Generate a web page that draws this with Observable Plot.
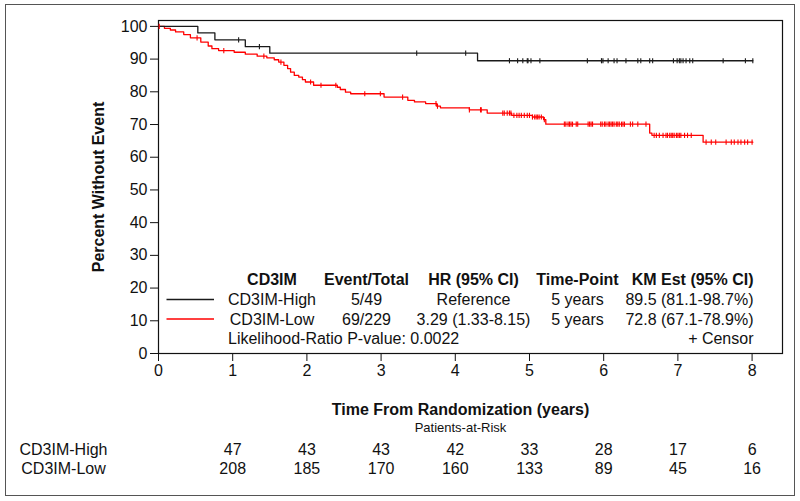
<!DOCTYPE html>
<html>
<head>
<meta charset="utf-8">
<script src="https://cdn.jsdelivr.net/npm/d3@7"></script>
<script src="https://cdn.jsdelivr.net/npm/@observablehq/plot@0.6"></script>
<style>
  html, body { margin: 0; padding: 0; background: #fff; }
  #wrap { position: relative; width: 800px; height: 501px; }
  #border { position: absolute; left: 5px; top: 4px; width: 788px; height: 490px; border: 1.5px solid #555; pointer-events: none; }
</style>
</head>
<body>
<div id="wrap"><div id="chart"></div><div id="border"></div></div>
<script>
// ---- Data ----
const highTimes = [0, 0.53, 0.76, 1.17, 1.50, 4.30, 8.01];
const highSurv  = [100, 98.0, 95.9, 93.8, 91.8, 89.5, 89.5];
const highCensor = [1.08, 1.36, 3.48, 4.14, 4.73, 4.84, 4.91, 4.97, 4.98, 5.02, 5.14, 5.78, 5.97, 5.99,
  6.06, 6.14, 6.18, 6.30, 6.46, 6.50, 6.62, 6.66, 6.94, 6.99, 7.02, 7.04, 7.07, 7.11, 7.16, 7.20, 7.61, 7.91, 8.01];

const lowTimes = [0, 0.08, 0.16, 0.23, 0.34, 0.43, 0.57, 0.67, 0.72, 0.81, 1.02, 1.17, 1.33, 1.46, 1.56, 1.62,
  1.69, 1.74, 1.78, 1.83, 1.89, 1.94, 1.98, 2.09, 2.41, 2.45, 2.52, 2.59, 3.04, 3.36, 3.45, 3.60, 3.75, 3.80,
  4.19, 4.43, 4.76, 5.04, 5.19, 5.22, 6.62, 6.65, 7.34, 8.01];
const lowSurv = [100, 99.4, 98.9, 98.3, 97.5, 96.5, 95.2, 94.0, 93.2, 92.6, 92.1, 91.5, 90.9, 90.4, 89.8, 89.1,
  88.1, 87.1, 86.0, 85.0, 84.5, 83.7, 83.0, 82.0, 81.4, 80.7, 79.9, 79.4, 78.4, 77.4, 76.9, 76.4, 75.6, 75.1,
  74.5, 73.5, 72.8, 72.3, 71.5, 70.1, 67.4, 66.7, 64.6, 64.6];
const lowCensor = [0.01, 0.52, 0.88, 1.42, 1.65, 2.05, 2.19, 2.39, 2.78, 2.99, 3.29, 3.74, 3.76, 4.19, 4.34, 4.35,
  4.64, 4.66, 4.70, 4.73, 4.75, 4.79, 4.83, 4.86, 4.89, 4.93, 4.97, 5.00, 5.04, 5.07, 5.09, 5.11, 5.13, 5.16, 5.20,
  5.47, 5.49, 5.52, 5.54, 5.56, 5.58, 5.63, 5.65, 5.79, 5.81, 5.83, 5.85, 5.96, 5.98, 6.01, 6.03, 6.06, 6.08,
  6.10, 6.12, 6.14, 6.17, 6.19, 6.21, 6.24, 6.26, 6.28, 6.36, 6.39, 6.46, 6.57,
  6.68, 6.71, 6.75, 6.80, 6.84, 6.86, 6.89, 6.91, 6.93, 6.95, 6.98, 7.00, 7.02, 7.04, 7.09, 7.13, 7.18,
  7.38, 7.45, 7.51, 7.65, 7.72, 7.76, 7.81, 7.85, 7.90, 7.94, 8.00];

const xTicks = [0, 1, 2, 3, 4, 5, 6, 7, 8];
const yTicks = [0, 10, 20, 30, 40, 50, 60, 70, 80, 90, 100];

const groups = ["CD3IM-High", "CD3IM-Low"];
const riskTimes = [1, 2, 3, 4, 5, 6, 7, 8];
const riskHigh = [47, 43, 43, 42, 33, 28, 17, 6];
const riskLow  = [208, 185, 170, 160, 133, 89, 45, 16];

const legendHeaders = ["CD3IM", "Event/Total", "HR (95% CI)", "Time-Point", "KM Est (95% CI)"];
const legendEvents = ["5/49", "69/229"];
const legendHR = ["Reference", "3.29 (1.33-8.15)"];
const legendTimePoint = ["5 years", "5 years"];
const legendKM = ["89.5 (81.1-98.7%)", "72.8 (67.1-78.9%)"];
const pValueText = "Likelihood-Ratio P-value: 0.0022";
const censorText = "+ Censor";

// ---- Build tables ----
const colors = {"CD3IM-High": "#1a1a1a", "CD3IM-Low": "#ff0000"};
const stepRows = (g, ts, ss) => ts.map((t, i) => ({group: g, t, s: ss[i]}));
const highSteps = stepRows("CD3IM-High", highTimes, highSurv);
const lowSteps = stepRows("CD3IM-Low", lowTimes, lowSurv);
const levelAt = (steps, t) => { let v = steps[0].s; for (const d of steps) if (d.t <= t) v = d.s; return v; };
const censorRows = (g, cs, steps) => cs.map(t => ({group: g, t, s: levelAt(steps, t)}));
const censors = [...censorRows("CD3IM-High", highCensor, highSteps), ...censorRows("CD3IM-Low", lowCensor, lowSteps)];
const risk = riskTimes.map((t, i) => ({t, high: riskHigh[i], low: riskLow[i]}));

const vtick = { draw(ctx, size) { const r = Math.sqrt(size / Math.PI); ctx.moveTo(0, -r); ctx.lineTo(0, r); } };

const FONT = '"Liberation Sans", Arial, Helvetica, sans-serif';
const ML = 158, MT = 20;
// legend layout (pixels)
const colX = [271.5, 366, 473, 577, 753];
const colAnchor = ["middle", "middle", "middle", "middle", "end"];
const rowY = [279.5, 299.5, 319, 338.5];

const legendMarks = [];
legendHeaders.forEach((h, i) => legendMarks.push(Plot.text([h], {
  text: d => d, frameAnchor: "top-left", dx: colX[i] - ML, dy: rowY[0] - MT, lineAnchor: "middle",
  textAnchor: colAnchor[i], fontWeight: "bold", fontSize: 16, fill: "#111"
})));
const rowCols = [groups, legendEvents, legendHR, legendTimePoint, legendKM];
rowCols.forEach((col, i) => col.forEach((txt, r) => legendMarks.push(Plot.text([txt], {
  text: d => d, frameAnchor: "top-left", dx: colX[i] - ML, dy: rowY[r + 1] - MT, lineAnchor: "middle",
  textAnchor: colAnchor[i], fontSize: 16, fill: "#111"
}))));
legendMarks.push(Plot.text([pValueText], {text: d => d, frameAnchor: "top-left", dx: 227.5 - ML, dy: rowY[3] - MT, lineAnchor: "middle", textAnchor: "start", fontSize: 16, fill: "#111"}));
legendMarks.push(Plot.text([censorText], {text: d => d, frameAnchor: "top-left", dx: 753 - ML, dy: rowY[3] - MT, lineAnchor: "middle", textAnchor: "end", fontSize: 16, fill: "#111"}));

const legendLines = (index, scales, values, dimensions) => {
  const g = d3.create("svg:g");
  groups.forEach((grp, r) => {
    g.append("line").attr("x1", 166.5).attr("x2", 214).attr("y1", rowY[r + 1]).attr("y2", rowY[r + 1])
      .attr("stroke", colors[grp]).attr("stroke-width", 1.3);
  });
  return g.node();
};

const BOT = 353; // frame bottom in pixels (height - marginBottom)
const chart = Plot.plot({
  width: 800, height: 501,
  marginLeft: ML, marginRight: 18, marginTop: MT, marginBottom: 148,
  style: {fontFamily: FONT, fontSize: "16px", color: "#111", background: "white", overflow: "visible"},
  x: {domain: [0, 8.41], ticks: xTicks, tickSize: 8, tickPadding: 3, label: null, tickFormat: d => String(d)},
  y: {domain: [0, 101.8], ticks: yTicks, tickSize: 8, tickPadding: 3, label: null, tickFormat: d => String(d)},
  marks: [
    Plot.frame({stroke: "#111", strokeWidth: 1.2}),
    Plot.line(lowSteps, {x: "t", y: "s", curve: "step-after", stroke: colors["CD3IM-Low"], strokeWidth: 1.3}),
    Plot.line(highSteps, {x: "t", y: "s", curve: "step-after", stroke: colors["CD3IM-High"], strokeWidth: 1.3}),
    Plot.dot(censors, {x: "t", y: "s", symbol: vtick, r: 2.6, stroke: d => colors[d.group], strokeWidth: 1.1, fill: "none"}),
    ...legendMarks,
    legendLines,
    Plot.text(["Percent Without Event"], {text: d => d, frameAnchor: "left", dx: -60, rotate: -90, lineAnchor: "middle", textAnchor: "middle", fontWeight: "bold", fontSize: 16, fill: "#111"}),
    Plot.text(["Time From Randomization (years)"], {text: d => d, frameAnchor: "bottom", dx: -10, dy: 409 - BOT, lineAnchor: "middle", fontWeight: "bold", fontSize: 16, fill: "#111"}),
    Plot.text(["Patients-at-Risk"], {text: d => d, frameAnchor: "bottom", dx: -10, dy: 427 - BOT, lineAnchor: "middle", fontSize: 13, fill: "#111"}),
    Plot.text([groups[0]], {text: d => d, frameAnchor: "bottom-left", dx: 63 - ML, dy: 449 - BOT, lineAnchor: "middle", textAnchor: "middle", fontSize: 16, fill: "#111"}),
    Plot.text([groups[1]], {text: d => d, frameAnchor: "bottom-left", dx: 63 - ML, dy: 468 - BOT, lineAnchor: "middle", textAnchor: "middle", fontSize: 16, fill: "#111"}),
    Plot.text(risk, {x: "t", text: "high", frameAnchor: "bottom", dy: 449 - BOT, lineAnchor: "middle", fontSize: 16, fill: "#111"}),
    Plot.text(risk, {x: "t", text: "low", frameAnchor: "bottom", dy: 468 - BOT, lineAnchor: "middle", fontSize: 16, fill: "#111"})
  ]
});
document.getElementById("chart").appendChild(chart);
</script>
</body>
</html>
